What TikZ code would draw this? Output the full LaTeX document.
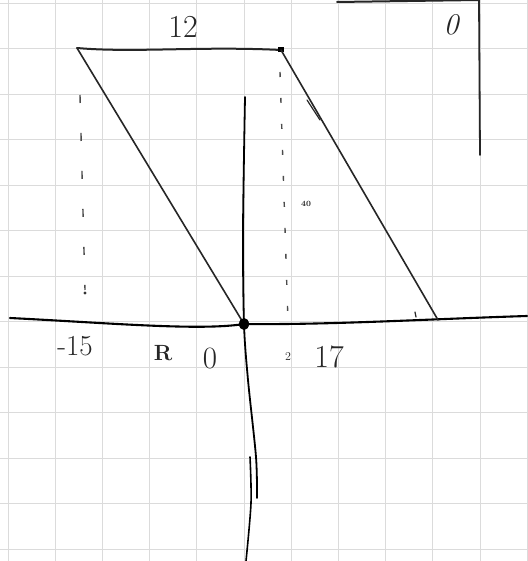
\documentclass[tikz,border=0pt]{standalone}
\begin{document}
\begin{tikzpicture}[x=1pt,y=-1pt,
  gridline/.style={draw=black!14,line width=0.9pt},
  pen/.style={draw=black!85,line width=1.6pt,line cap=round,line join=round},
  axis/.style={draw=black,line width=2.1pt,line cap=round},
  dotline/.style={draw=black!70,line width=1.4pt,dash pattern=on 8pt off 30pt},
  lbl/.style={inner sep=0pt,text=black!85,font=\fontsize{30}{30}\selectfont}]
\useasboundingbox (0,0) rectangle (527,561);
\fill[white] (0,0) rectangle (527,561);
% grid paper
\foreach \i in {0,...,11} {\draw[gridline] ({8+47.2*\i},0) -- ({8+47.2*\i},561);}
\foreach \j in {0,...,12} {\draw[gridline] (0,{3+45.5*\j}) -- (527,{3+45.5*\j});}
% points
\coordinate (A) at (77,48);
\coordinate (B) at (281,50);
\coordinate (O) at (244,324);
\coordinate (C) at (438,320);
\coordinate (xl) at (10,318);
\coordinate (xr) at (527,316);
\coordinate (yt) at (245,97);
\coordinate (ym) at (243,230);
\coordinate (yb1) at (248,380);
\coordinate (yb2) at (256,457);
\coordinate (yb3) at (257,498);
\coordinate (zt) at (250,457);
\coordinate (zm) at (251,503);
\coordinate (zb) at (246,561);
\coordinate (Ld1) at (80,95);
\coordinate (Ld2) at (85,290);
\coordinate (Rd1) at (280,72);
\coordinate (Rd2) at (288,322);
\coordinate (TR1) at (337,2);
\coordinate (TR2) at (479,0);
\coordinate (TR3) at (480,155);
\coordinate (s1) at (307,100);
\coordinate (s2) at (320,120);
\coordinate (t1) at (415,312);
\coordinate (t2) at (416,317);
% dotted verticals
\draw[dotline] (Ld1) -- (Ld2);
\fill[black!80] (Ld2) ++(0,3) circle (1.6pt);
\draw[dotline,dash pattern=on 5pt off 21pt] (Rd1) -- (Rd2);
% axes
\draw[axis] (xl) .. controls (110,323) and (200,331) .. (O) .. controls (330,325) and (430,319) .. (xr);
\draw[axis,line width=1.8pt] plot[smooth] coordinates {(yt) (ym) (O) (yb1) (yb2) (yb3)};
\draw[axis,line width=1.6pt] plot[smooth] coordinates {(zt) (zm) (zb)};
% parallelogram
\draw[pen,line width=2pt] (A) .. controls (133,53) and (200,46) .. (B);
\fill[black] (B) ++(-3,-3) rectangle ++(6,5);
\draw[pen] (A) -- (O);
\draw[pen] (B) -- (C);
\draw[pen,line width=1.2pt] (s1) -- (s2);
\draw[pen,line width=1.2pt] (t1) -- (t2);
\fill[black] (O) ellipse (5pt and 6pt);
% top-right corner box
\draw[pen,line width=2pt] (TR1) -- (TR2);
\draw[pen,line width=1.8pt] (TR2) -- (TR3);
% labels
\node[lbl,font=\fontsize{32}{32}\selectfont] (l12) at (183,27) {12};
\node[lbl,font=\itshape\fontsize{30}{30}\selectfont] (l0t) at (451,25) {0};
\node[lbl,font=\fontsize{29}{29}\selectfont] (lm15) at (75,346) {-15};
\node[lbl,font=\bfseries\fontsize{22}{22}\selectfont] (lR) at (163,353) {R};
\node[lbl,font=\fontsize{31}{31}\selectfont] (l0b) at (210,358) {0};
\node[lbl,font=\fontsize{12}{12}\selectfont] (l2) at (288,357) {2};
\node[lbl,font=\fontsize{32}{32}\selectfont] (l17) at (329,357) {17};
\node[lbl,font=\bfseries\fontsize{8}{8}\selectfont] (l40) at (306,204) {40};
\end{tikzpicture}
\end{document}
